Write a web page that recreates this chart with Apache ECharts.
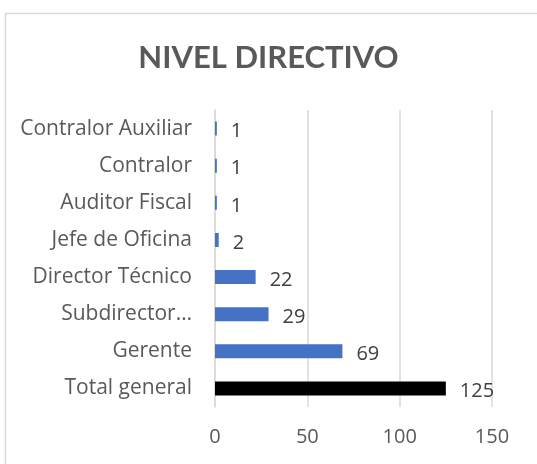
<!DOCTYPE html>
<html>
<head>
<meta charset="utf-8">
<script src="https://cdn.jsdelivr.net/npm/echarts@6/dist/echarts.min.js"></script>
<style>
  html, body { margin: 0; padding: 0; background: #fff; }
  #chartExample { width: 537px; height: 464px; }
</style>
</head>
<body>
<div id="chartExample"></div>
<script>
// datos del gráfico
var categorias = ['Contralor Auxiliar', 'Contralor', 'Auditor Fiscal', 'Jefe de Oficina',
                  'Director Técnico', 'Subdirector…', 'Gerente', 'Total general'];
var valores = [1, 1, 1, 2, 22, 29, 69, 125];
var ticksX = [0, 50, 100, 150];

var myChart = echarts.init(document.getElementById('chartExample'));

var gris = '#595959';
var fuente = 'Open Sans';

var option = {
    backgroundColor: '#fff',
    animation: false,
    graphic: [{
        type: 'rect',
        left: 3, top: 11,
        shape: { width: 700, height: 700 },
        style: { fill: 'none', stroke: '#d9d9d9', lineWidth: 1.5 }
    }],
    title: {
        text: 'NIVEL DIRECTIVO',
        left: 'center',
        top: 37,
        textStyle: { color: gris, fontFamily: 'Lato', fontWeight: 'bold', fontSize: 31 }
    },
    grid: { left: 215, right: 45, top: 110, bottom: 57 },
    xAxis: {
        type: 'value',
        min: ticksX[0],
        max: ticksX[ticksX.length - 1],
        interval: 50,
        axisLine: { show: false },
        axisTick: { show: false },
        splitLine: { lineStyle: { color: '#d9d9d9', width: 1.5 } },
        axisLabel: { color: gris, fontFamily: fuente, fontSize: 20, margin: 20 }
    },
    yAxis: {
        type: 'category',
        inverse: true,
        data: categorias,
        axisLine: { show: true, lineStyle: { color: '#d9d9d9', width: 1.5 } },
        axisTick: { show: false },
        axisLabel: { color: gris, fontFamily: fuente, fontSize: 21, margin: 23 }
    },
    series: [{
        type: 'bar',
        barWidth: 14,
        data: valores.map(function (v, i) {
            return {
                value: v,
                itemStyle: { color: categorias[i] === 'Total general' ? '#000000' : '#4472C4' }
            };
        }),
        label: {
            show: true,
            position: 'right',
            distance: 14,
            offset: [0, 3],
            color: '#404040',
            fontFamily: fuente,
            fontSize: 20
        }
    }]
};

myChart.setOption(option);
</script>
</body>
</html>
